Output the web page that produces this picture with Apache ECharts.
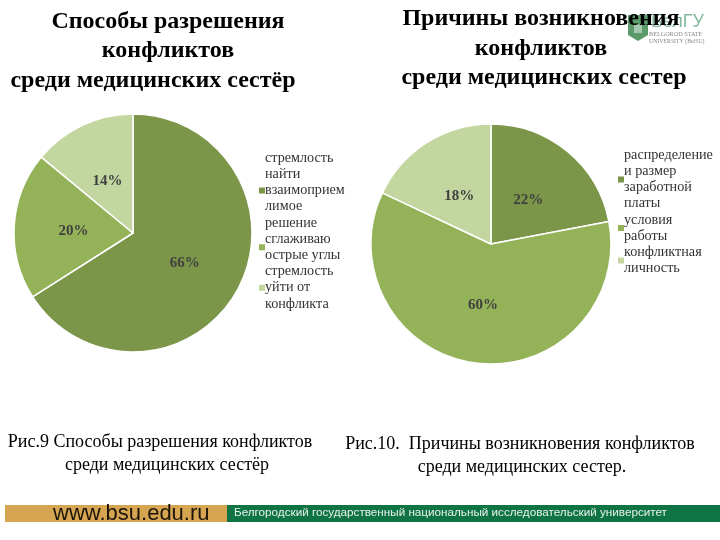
<!DOCTYPE html>
<html>
<head>
<meta charset="utf-8">
<style>
  html, body { margin: 0; padding: 0; background: #fff; }
  #chart { width: 720px; height: 540px; }
</style>
<script src="https://cdn.jsdelivr.net/npm/echarts@6/dist/echarts.min.js"></script>
</head>
<body>
<div id="chart"></div>
<script>
// левая диаграмма
const leftNames = ['стремлость\nнайти\nвзаимоприем\nлимое\nрешение', 'сглаживаю\nострые углы', 'стремлость\nуйти от\nконфликта']
const leftValues = [66, 20, 14]
// правая диаграмма
const rightNames = ['распределение\nи размер\nзаработной\nплаты', 'условия\nработы', 'конфликтная\nличность']
const rightValues = [22, 60, 18]

const sliceColors = ['#7b9549', '#94b359', '#c4d69f']
const serif = '"Liberation Serif", serif'
const sans = '"Liberation Sans", sans-serif'

const toPie = (names, values) => names.map((name, i) => ({
  name,
  value: values[i],
  itemStyle: { color: sliceColors[i] }
}))

// nudges: небольшие сдвиги подписей, в оригинале они стоят не строго по центру сектора
const pieSeries = (names, values, center, radius, nudges) => ({
  type: 'pie',
  animation: false,
  silent: true,
  center,
  radius,
  startAngle: 90,
  clockwise: true,
  data: toPie(names, values),
  itemStyle: { borderColor: '#fff', borderWidth: 1.5 },
  label: {
    position: 'inside',
    formatter: '{c}%',
    fontFamily: serif,
    fontWeight: 'bold',
    fontSize: 15,
    color: '#404040'
  },
  labelLine: { show: false },
  labelLayout: (params) => ({ dx: nudges[params.dataIndex][0], dy: nudges[params.dataIndex][1] })
})

const legendStyle = (names, left, top) => ({
  orient: 'vertical',
  left,
  top,
  data: names,
  icon: 'rect',
  itemWidth: 8,
  itemHeight: 8,
  itemGap: 0,
  padding: 0,
  selectedMode: false,
  textStyle: {
    fontFamily: serif,
    fontSize: 14.2,
    lineHeight: 16.2,
    color: '#333',
    padding: [0, 0, 0, -6]
  }
})

const titleText = (x, y, text, size, weight) => ({
  type: 'text',
  x,
  y,
  z: weight ? 5 : 2,
  style: {
    text,
    fontFamily: serif,
    fontSize: size,
    fontWeight: weight || 'normal',
    fill: '#000',
    align: 'center',
    verticalAlign: 'middle'
  }
})

const chart = echarts.init(document.getElementById('chart'))
chart.setOption({
  backgroundColor: '#fff',
  animation: false,
  legend: [
    legendStyle(leftNames, 257, 150),
    legendStyle(rightNames, 616, 147)
  ],
  series: [
    pieSeries(leftNames, leftValues, [133, 233], 119, [[-3, 0], [3, 2], [1, 5]]),
    pieSeries(rightNames, rightValues, [491, 244], 120, [[-3, 5], [0, -1], [2, 5]])
  ],
  graphic: [
    // логотип
    { type: 'polygon', z: 1, shape: { points: [[628, 15], [648, 15], [648, 35], [638, 41], [628, 35]] }, style: { fill: '#5b9a6b' } },
    { type: 'rect', z: 1, shape: { x: 634, y: 24, width: 8, height: 9 }, style: { fill: '#a5c9ae' } },
    { type: 'text', z: 1, x: 651, y: 13, style: { text: 'БелГУ', fontFamily: sans, fontSize: 18, fill: '#84b99d' } },
    { type: 'text', z: 1, x: 649, y: 31, style: { text: 'BELGOROD STATE', fontFamily: serif, fontSize: 6.2, fill: '#888' } },
    { type: 'text', z: 1, x: 649, y: 38, style: { text: 'UNIVERSITY (BelSU)', fontFamily: serif, fontSize: 5.8, fill: '#888' } },
    // заголовки
    titleText(168, 22, 'Способы разрешения', 24, 'bold'),
    titleText(168, 51, 'конфликтов', 24, 'bold'),
    titleText(153, 81, 'среди медицинских сестёр', 24, 'bold'),
    titleText(541, 19, 'Причины возникновения', 24, 'bold'),
    titleText(541, 49, 'конфликтов', 24, 'bold'),
    titleText(544, 78, 'среди медицинских сестер', 24, 'bold'),
    // подписи
    titleText(160, 442, 'Рис.9 Способы разрешения конфликтов', 18),
    titleText(167, 465, 'среди медицинских сестёр', 18),
    titleText(520, 444, 'Рис.10.  Причины возникновения конфликтов', 18),
    titleText(522, 467, 'среди медицинских сестер.', 18),
    // нижняя полоса
    { type: 'rect', shape: { x: 5, y: 505, width: 222, height: 17 }, style: { fill: '#d5a552' } },
    { type: 'rect', shape: { x: 227, y: 505, width: 493, height: 17 }, style: { fill: '#0f7444' } },
    { type: 'text', x: 53, y: 514, style: { text: 'www.bsu.edu.ru', fontFamily: sans, fontSize: 22, fill: '#1c1408', verticalAlign: 'middle' } },
    { type: 'text', x: 234, y: 513, style: { text: 'Белгородский государственный национальный исследовательский университет', fontFamily: sans, fontSize: 11.7, fill: '#e8f2ea', verticalAlign: 'middle' } }
  ]
})
</script>
</body>
</html>
